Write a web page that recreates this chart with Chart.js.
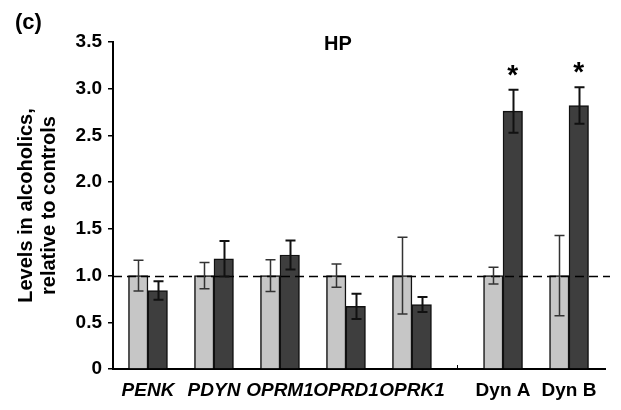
<!DOCTYPE html>
<html>
<head>
<meta charset="utf-8">
<script src="https://cdn.jsdelivr.net/npm/chart.js@4.4.0/dist/chart.umd.min.js"></script>
<style>
  html, body { margin: 0; padding: 0; background: #fff; }
</style>
</head>
<body>
<canvas id="hpChart" width="621" height="410"></canvas>
<script>
// HP panel: levels in alcoholics relative to controls
const genes = ['PENK', 'PDYN', 'OPRM1', 'OPRD1', 'OPRK1', 'Dyn A', 'Dyn B'];
const controls = [1, 1, 1, 1, 1, 1, 1];
const controlsErr = [0.165, 0.14, 0.17, 0.125, 0.41, 0.09, 0.43];
const alcoholics = [0.84, 1.18, 1.22, 0.67, 0.69, 2.76, 2.82];
const alcoholicsErr = [0.10, 0.19, 0.155, 0.135, 0.08, 0.23, 0.195];
const significant = [false, false, false, false, false, true, true];
const yTicks = [0, 0.5, 1, 1.5, 2, 2.5, 3, 3.5];

const FONT = "'Liberation Sans', Arial, sans-serif";
Chart.defaults.font.family = FONT;
Chart.defaults.color = '#000';

// the two peptides sit a bit apart from the five mRNAs
const slots = genes.map((g, i) => i + 1 + (i >= 5 ? 0.38 : 0));

const toPoints = vals => vals.map((v, i) => ({ x: slots[i], y: v }));

// error bars, reference line, asterisks and panel labels
const extras = {
  id: 'extras',
  afterDatasetsDraw(chart) {
    const { ctx, scales: { x, y }, chartArea } = chart;
    const errs = [controlsErr, alcoholicsErr];
    const vals = [controls, alcoholics];

    // dashed line at 1.0
    ctx.save();
    ctx.strokeStyle = '#000';
    ctx.lineWidth = 1.5;
    ctx.setLineDash([9, 5]);
    const y1 = Math.round(y.getPixelForValue(1)) + 0.5;
    ctx.beginPath();
    ctx.moveTo(chartArea.left, y1);
    ctx.lineTo(chartArea.right + 5, y1);
    ctx.stroke();
    ctx.restore();

    errs.forEach((err, d) => {
      const meta = chart.getDatasetMeta(d);
      ctx.save();
      ctx.strokeStyle = d === 0 ? '#333' : '#111';
      ctx.lineWidth = d === 0 ? 1.5 : 2;
      meta.data.forEach((bar, i) => {
        const top = y.getPixelForValue(vals[d][i] + err[i]);
        const bot = y.getPixelForValue(vals[d][i] - err[i]);
        const cx = Math.round(bar.x) + 0.5;
        ctx.beginPath();
        ctx.moveTo(cx, top); ctx.lineTo(cx, bot);
        ctx.moveTo(cx - 5, top); ctx.lineTo(cx + 5, top);
        ctx.moveTo(cx - 5, bot); ctx.lineTo(cx + 5, bot);
        ctx.stroke();
        if (d === 1 && significant[i]) {
          ctx.fillStyle = '#000';
          ctx.font = 'bold 28px ' + FONT;
          ctx.textAlign = 'center';
          ctx.textBaseline = 'alphabetic';
          ctx.fillText('*', bar.x, top - 6);
        }
      });
      ctx.restore();
    });

    // little mark on the axis between the two blocks
    ctx.save();
    ctx.strokeStyle = '#000';
    ctx.lineWidth = 1;
    const mx = Math.round(x.getPixelForValue((slots[4] + slots[5]) / 2)) + 0.5;
    ctx.beginPath();
    ctx.moveTo(mx, chartArea.bottom);
    ctx.lineTo(mx, chartArea.bottom - 4);
    ctx.stroke();

    ctx.fillStyle = '#000';
    ctx.textBaseline = 'alphabetic';
    ctx.textAlign = 'center';
    ctx.font = 'bold 20px ' + FONT;
    ctx.fillText('HP', 338, 50);
    ctx.textAlign = 'left';
    ctx.font = 'bold 22px ' + FONT;
    ctx.fillText('(c)', 15, 29);
    ctx.restore();
  }
};

new Chart(document.getElementById('hpChart'), {
  type: 'bar',
  data: {
    datasets: [
      {
        label: 'Controls',
        data: toPoints(controls),
        backgroundColor: '#c6c6c6',
        borderColor: '#111',
        borderWidth: 1.5,
      },
      {
        label: 'Alcoholics',
        data: toPoints(alcoholics),
        backgroundColor: '#3e3e3e',
        borderColor: '#111',
        borderWidth: 1.5,
      },
    ],
  },
  options: {
    responsive: false,
    animation: false,
    barThickness: 19.5,
    layout: { padding: { top: 42, right: 16, left: 0, bottom: 0 } },
    plugins: {
      legend: { display: false },
      tooltip: { enabled: false },
    },
    scales: {
      x: {
        type: 'linear',
        offset: false,
        min: 0.47,
        max: 7.925,
        afterBuildTicks: s => { s.ticks = slots.map(v => ({ value: v })); },
        afterFit: s => { s.height = 41; },
        grid: { display: false, drawTicks: false },
        border: { color: '#000', width: 2 },
        ticks: {
          autoSkip: false,
          maxRotation: 0,
          minRotation: 0,
          padding: 10,
          color: '#000',
          callback: (v, i) => genes[i],
          font: c => ({ family: FONT, size: 19, weight: 'bold', style: c.index < 5 ? 'italic' : 'normal' }),
        },
      },
      y: {
        min: 0,
        max: 3.5,
        afterBuildTicks: s => { s.ticks = yTicks.map(v => ({ value: v })); },
        afterFit: s => { s.width = 113; },
        grid: { drawOnChartArea: false, color: '#000', lineWidth: 1.5, tickLength: 5 },
        border: { color: '#000', width: 2 },
        ticks: {
          padding: 6,
          color: '#000',
          font: { family: FONT, size: 19, weight: 'bold' },
          callback: v => (v === 0 ? '0' : v.toFixed(1)),
        },
        title: {
          display: true,
          text: ['Levels in alcoholics,', 'relative to controls'],
          color: '#000',
          font: { family: FONT, size: 20, weight: 'bold', lineHeight: 1.15 },
          padding: { top: 15, bottom: 0 },
        },
      },
    },
  },
  plugins: [extras],
});
</script>
</body>
</html>
